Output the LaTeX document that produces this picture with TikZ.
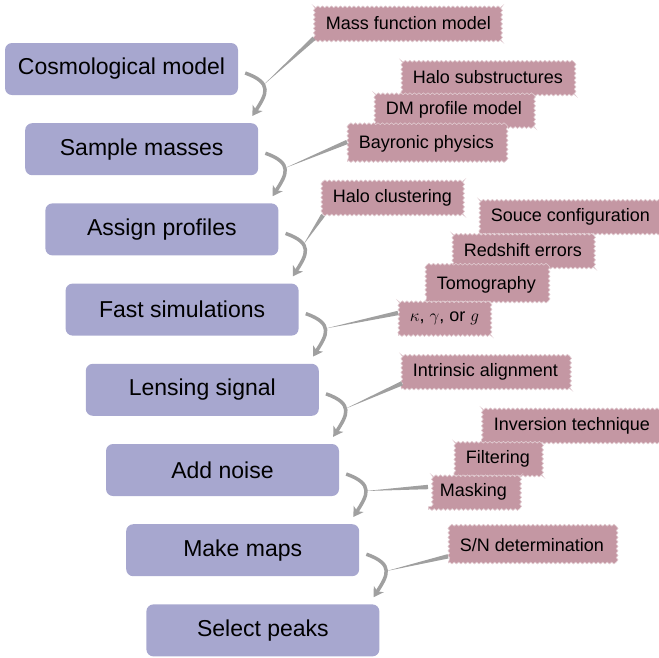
\documentclass[tikz,border=0pt]{standalone}
\usepackage{fontspec}
\setmainfont{Liberation Sans}
\usetikzlibrary{arrows.meta,calc,decorations.pathmorphing}
\definecolor{stepfill}{HTML}{A7A7CF}
\definecolor{notefill}{HTML}{C497A3}
\definecolor{linkgray}{HTML}{A0A0A0}
\begin{document}
\begin{tikzpicture}[x=1pt,y=-1pt,
  stage/.style={fill=stepfill, rounded corners=7pt, minimum width=233pt,
    minimum height=52pt, inner sep=0pt, font=\fontsize{23}{27}\selectfont},
  note/.style={fill=notefill, draw=notefill!50!white, line width=0.6pt,
    decorate, decoration={snake, amplitude=0.9pt, segment length=4.5pt},
    inner xsep=11.5pt, inner ysep=0pt, minimum height=35pt, anchor=west,
    font=\fontsize{18}{21}\selectfont},
  flow/.style={draw=linkgray, line width=3.5pt,
    -{Stealth[length=9.5pt,width=11.5pt,inset=2.5pt]}},
  wedge/.style={fill=linkgray}
]
\useasboundingbox (0,0) rectangle (659,657);

% pipeline stages
\node[stage] (b1) at (121.5,69)    {Cosmological model};
\node[stage] (b2) at (141.7,149.2) {Sample masses};
\node[stage] (b3) at (161.9,229.4) {Assign profiles};
\node[stage] (b4) at (182.1,309.6) {Fast simulations};
\node[stage] (b5) at (202.3,389.8) {Lensing signal};
\node[stage] (b6) at (222.5,470)   {Add noise};
\node[stage] (b7) at (242.7,550.2) {Make maps};
\node[stage] (b8) at (262.9,630.4) {Select peaks};

% modelling choices attached to each step
\node[note] (mf) at (314,23.5)  {Mass function model};
\node[note] (hs) at (401,77.5)  {Halo substructures};
\node[note] (dm) at (374,110)   {DM profile model};
\node[note] (bp) at (347,144)   {Bayronic physics};
\node[note] (hc) at (321,197.5) {Halo clustering};
\node[note] (sc) at (479,216.5) {Souce configuration};
\node[note] (re) at (452,250.5) {Redshift errors};
\node[note] (tg) at (425,284.5) {Tomography};
\node[note] (kg) at (398,318)   {$\kappa$, $\gamma$, or $g$};
\node[note] (ia) at (401,371.5) {Intrinsic alignment};
\node[note] (it) at (482,425.5) {Inversion technique};
\node[note] (fi) at (454,458.5) {Filtering};
\node[note] (ma) at (428,492)   {Masking};
\node[note] (sn) at (448,545.5) {S/N determination};

% curved arrows between consecutive stages
\draw[flow] ([shift={(7,4)}]b1.east) .. controls +(28,10) and +(14,-22) .. coordinate[pos=0.37] (m1) ([shift={(-6,-7)}]b2.north east);
\draw[flow] ([shift={(7,4)}]b2.east) .. controls +(28,10) and +(14,-22) .. coordinate[pos=0.45] (m2) ([shift={(-6,-7)}]b3.north east);
\draw[flow] ([shift={(7,4)}]b3.east) .. controls +(28,10) and +(14,-22) .. coordinate[pos=0.35] (m3) ([shift={(-6,-7)}]b4.north east);
\draw[flow] ([shift={(7,4)}]b4.east) .. controls +(28,10) and +(14,-22) .. coordinate[pos=0.45] (m4) ([shift={(-6,-7)}]b5.north east);
\draw[flow] ([shift={(7,4)}]b5.east) .. controls +(28,10) and +(14,-22) .. coordinate[pos=0.45] (m5) ([shift={(-6,-7)}]b6.north east);
\draw[flow] ([shift={(7,4)}]b6.east) .. controls +(28,10) and +(14,-22) .. coordinate[pos=0.5] (m6) ([shift={(-6,-7)}]b7.north east);
\draw[flow] ([shift={(7,4)}]b7.east) .. controls +(28,10) and +(14,-22) .. coordinate[pos=0.5] (m7) ([shift={(-6,-7)}]b8.north east);

% where each group of notes hooks on
\coordinate (a1) at ([shift={(0,-3)}]mf.south west);
\coordinate (a2) at ([shift={(0,-2)}]bp.west);
\coordinate (a3) at ([shift={(2,0)}]hc.south west);
\coordinate (a4) at ([shift={(0,-5)}]kg.west);
\coordinate (a5) at ([shift={(1,-6)}]ia.south west);
\coordinate (a6) at ([shift={(0,-5)}]ma.west);
\coordinate (a7) at ([shift={(0,-7)}]sn.south west);

% tapered links from the notes to the arrows
\foreach \i in {1,...,7}{
  \fill[wedge] ($(a\i)!2.2pt!90:(m\i)$) -- (m\i) -- ($(a\i)!2.2pt!-90:(m\i)$) -- cycle;
}
\end{tikzpicture}
\end{document}
